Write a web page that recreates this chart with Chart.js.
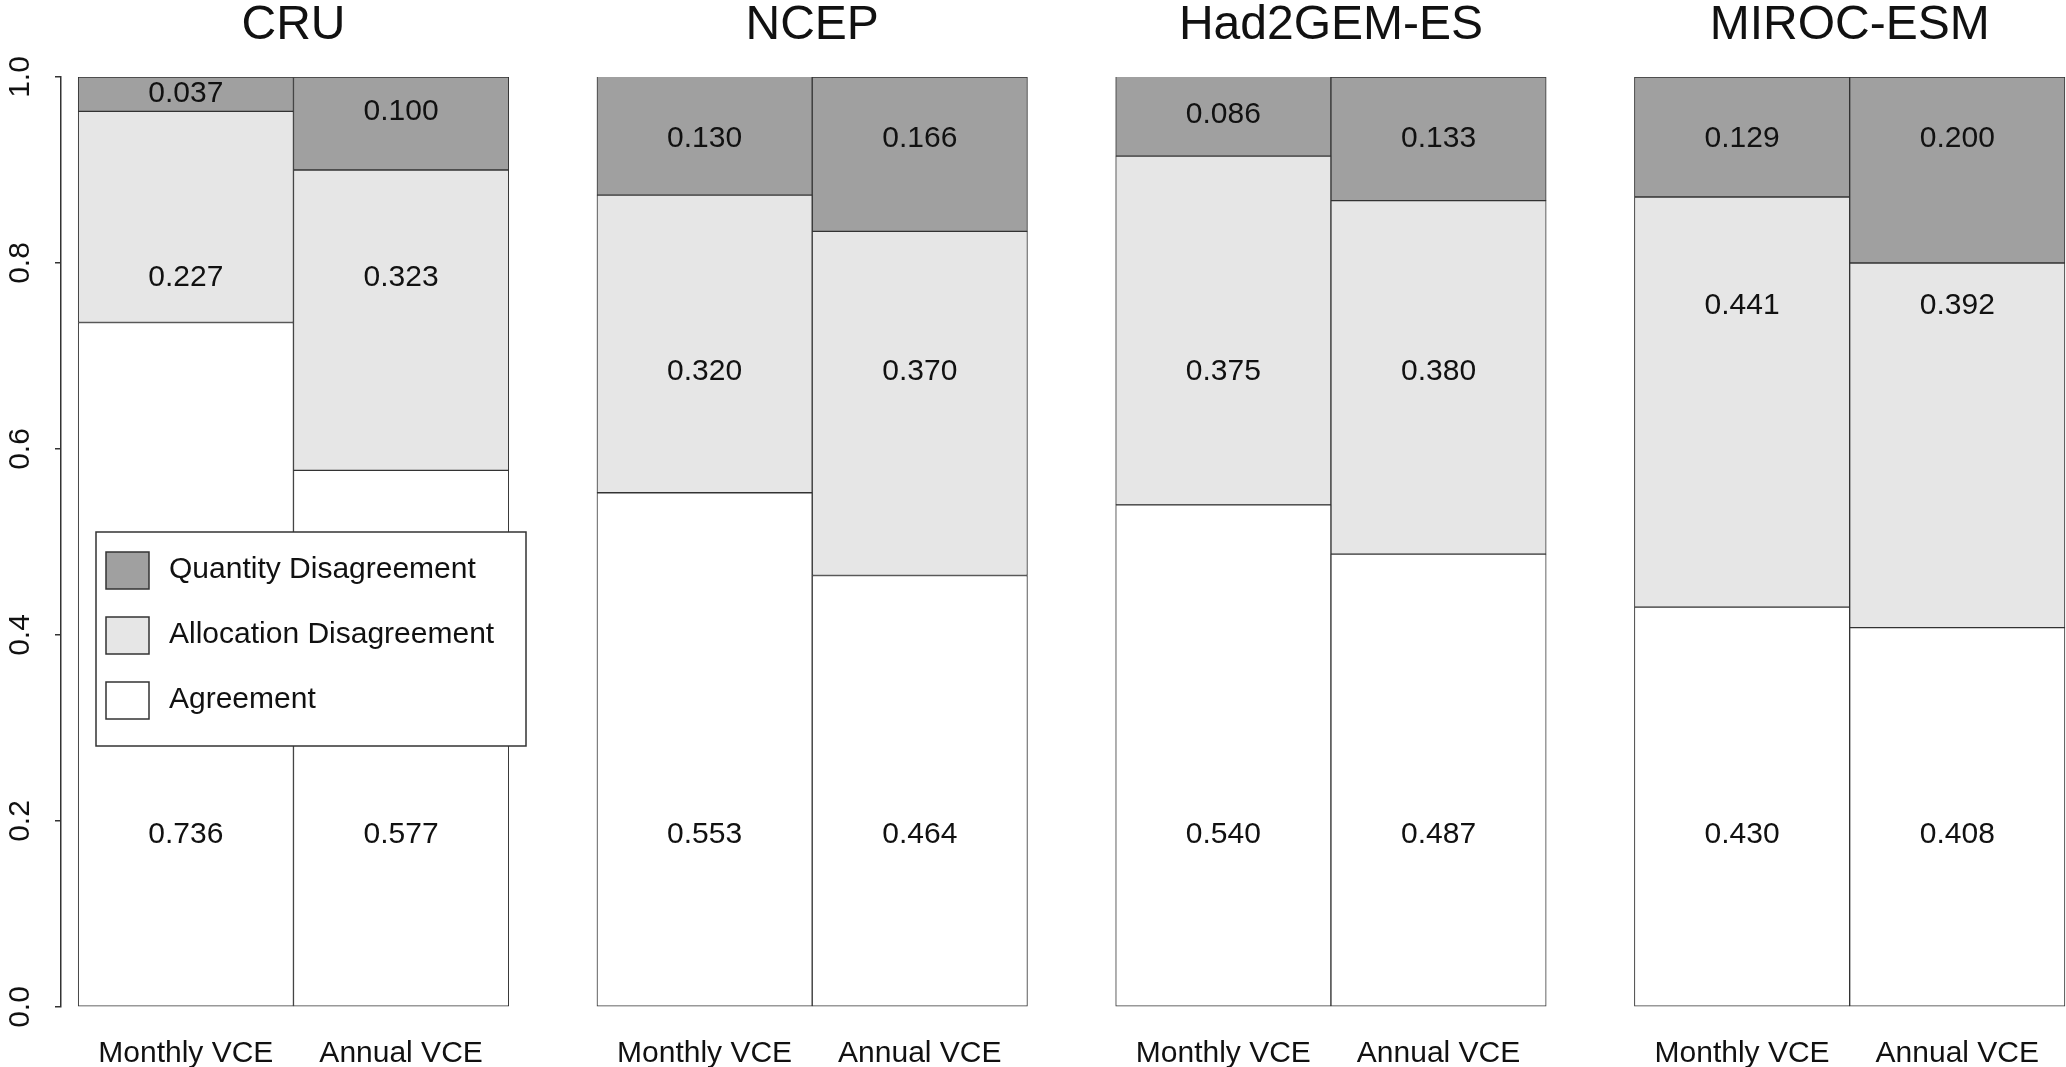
<!DOCTYPE html>
<html>
<head>
<meta charset="utf-8">
<title>Agreement / disagreement components of VCE</title>
<script src="https://cdn.jsdelivr.net/npm/chart.js@4.4.1/dist/chart.umd.min.js"></script>
<style>
  html, body { margin: 0; padding: 0; background: #fff; }
  #wrap { width: 2066px; height: 1067px; position: relative; }
</style>
</head>
<body>
<div id="wrap"><canvas id="vceChart"></canvas></div>
<script>
const groups = ['CRU', 'NCEP', 'Had2GEM-ES', 'MIROC-ESM'];
const barNames = ['Monthly VCE', 'Annual VCE'];

// one value per bar: CRU monthly, CRU annual, NCEP monthly, ...
const agreement = [0.736, 0.577, 0.553, 0.464, 0.540, 0.487, 0.430, 0.408];
const allocation = [0.227, 0.323, 0.320, 0.370, 0.375, 0.380, 0.441, 0.392];
const quantity = [0.037, 0.100, 0.130, 0.166, 0.086, 0.133, 0.129, 0.200];

const yTicks = [0.0, 0.2, 0.4, 0.6, 0.8, 1.0];

// height (axis units) at which each printed number sits, as in the figure
const agreementTextY = [0.185, 0.185, 0.185, 0.185, 0.185, 0.185, 0.185, 0.185];
const allocationTextY = [0.784, 0.784, 0.683, 0.683, 0.683, 0.683, 0.754, 0.754];
const quantityTextY = [0.982, 0.963, 0.934, 0.934, 0.959, 0.934, 0.934, 0.934];

const GROUP_STEP = 2.41; // bar widths from one panel to the next
const FONT = "'Liberation Sans', Arial, Helvetica, sans-serif";
const INK = '#111';
const EDGE = '#333';

const colors = {
  quantity: '#a0a0a0',
  allocation: '#e6e6e6',
  agreement: '#ffffff',
};

const barX = agreement.map((_, i) => Math.floor(i / 2) * GROUP_STEP + (i % 2) + 0.5);
const toPoints = (values) => values.map((v, i) => ({ x: barX[i], y: v }));

const series = [
  { label: 'Agreement', values: agreement, textY: agreementTextY, color: colors.agreement },
  { label: 'Allocation Disagreement', values: allocation, textY: allocationTextY, color: colors.allocation },
  { label: 'Quantity Disagreement', values: quantity, textY: quantityTextY, color: colors.quantity },
];

const annotations = {
  id: 'annotations',
  afterDatasetsDraw(chart) {
    const { ctx, chartArea, scales } = chart;
    const x = scales.x;
    const y = scales.y;
    ctx.save();

    // numbers printed in the segments
    ctx.fillStyle = INK;
    ctx.font = `30px ${FONT}`;
    ctx.textAlign = 'center';
    ctx.textBaseline = 'middle';
    series.forEach((s) => {
      s.values.forEach((v, i) => {
        ctx.fillText(v.toFixed(3), x.getPixelForValue(barX[i]), y.getPixelForValue(s.textY[i]));
      });
    });

    // panel titles
    ctx.font = `48px ${FONT}`;
    ctx.textBaseline = 'alphabetic';
    groups.forEach((name, g) => {
      ctx.fillText(name, x.getPixelForValue(g * GROUP_STEP + 1), 39);
    });

    // legend box inside the first panel
    const left = chartArea.left + 35;
    const top = 532;
    ctx.lineWidth = 1.5;
    ctx.strokeStyle = EDGE;
    ctx.fillStyle = '#fff';
    ctx.fillRect(left, top, 430, 214);
    ctx.strokeRect(left, top, 430, 214);
    ctx.font = `30px ${FONT}`;
    ctx.textAlign = 'left';
    ctx.textBaseline = 'middle';
    [...series].reverse().forEach((s, k) => {
      const rowY = top + 38 + k * 65;
      ctx.fillStyle = s.color;
      ctx.fillRect(left + 10, rowY - 18, 43, 37);
      ctx.strokeRect(left + 10, rowY - 18, 43, 37);
      ctx.fillStyle = INK;
      ctx.fillText(s.label, left + 73, rowY);
    });

    ctx.restore();
  },
};

new Chart(document.getElementById('vceChart'), {
  type: 'bar',
  data: {
    datasets: series.map((s) => ({
      label: s.label,
      data: toPoints(s.values),
      backgroundColor: s.color,
      borderColor: EDGE,
      borderWidth: 1,
      borderSkipped: false,
      barPercentage: 1,
      categoryPercentage: 1,
    })),
  },
  options: {
    responsive: true,
    maintainAspectRatio: false,
    animation: false,
    devicePixelRatio: 1,
    layout: { padding: { top: 77, right: 0, left: 0, bottom: 0 } },
    plugins: {
      legend: { display: false },
      tooltip: { enabled: false },
    },
    scales: {
      x: {
        type: 'linear',
        stacked: true,
        offset: false,
        min: -0.08,
        max: 3 * GROUP_STEP + 2.005,
        grid: { display: false, offset: false },
        border: { display: false },
        afterBuildTicks: (scale) => {
          scale.ticks = barX.map((v) => ({ value: v }));
        },
        afterFit: (scale) => {
          scale.height = 60;
        },
        ticks: {
          autoSkip: false,
          maxRotation: 0,
          minRotation: 0,
          padding: 21,
          color: INK,
          font: { family: FONT, size: 30 },
          callback: (value, index) => barNames[index % 2],
        },
      },
      y: {
        stacked: true,
        min: 0,
        max: 1,
        grid: {
          drawOnChartArea: false,
          drawTicks: true,
          tickLength: 6,
          color: EDGE,
          lineWidth: 1.5,
        },
        border: { display: true, color: EDGE, width: 1.5 },
        afterBuildTicks: (scale) => {
          scale.ticks = yTicks.map((v) => ({ value: v }));
        },
        afterFit: (scale) => {
          scale.width = 61;
        },
        ticks: {
          minRotation: 90,
          maxRotation: 90,
          crossAlign: 'center',
          padding: 13,
          color: INK,
          font: { family: FONT, size: 30 },
          callback: (value) => Number(value).toFixed(1),
        },
      },
    },
  },
  plugins: [annotations],
});
</script>
</body>
</html>
